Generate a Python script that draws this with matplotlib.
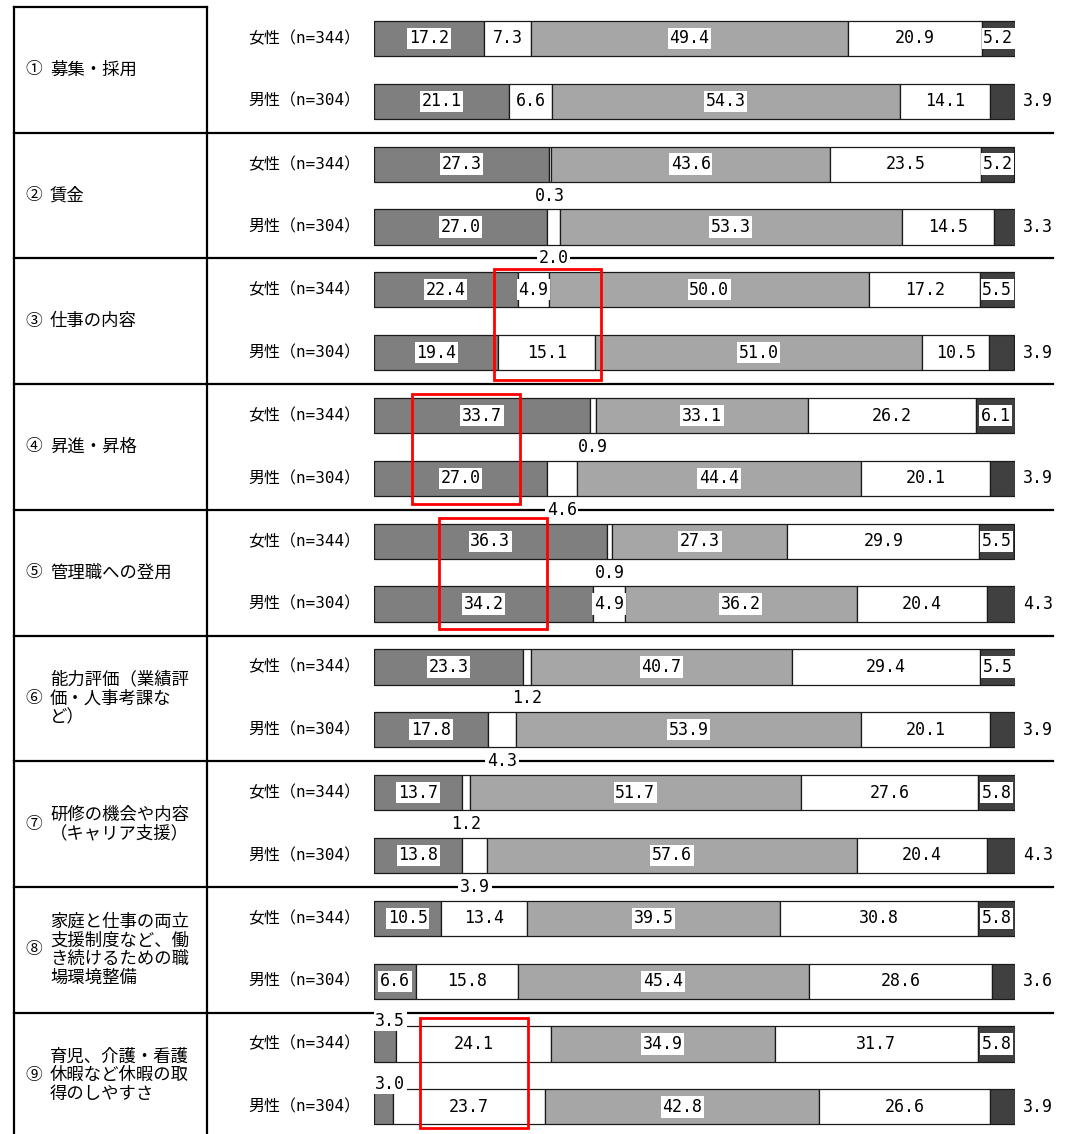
import matplotlib
matplotlib.use("Agg")
import matplotlib.pyplot as plt
from matplotlib.patches import Rectangle

plt.rcParams['font.family'] = ['Noto Sans CJK JP', 'DejaVu Sans']

# ---- data ----
circled = ["①", "②", "③", "④", "⑤", "⑥", "⑦", "⑧", "⑨"]
items = [
    "募集・採用",
    "賃金",
    "仕事の内容",
    "昇進・昇格",
    "管理職への登用",
    "能力評価（業績評\n価・人事考課な\nど）",
    "研修の機会や内容\n（キャリア支援）",
    "家庭と仕事の両立\n支援制度など、働\nき続けるための職\n場環境整備",
    "育児、介護・看護\n休暇など休暇の取\n得のしやすさ",
]
genders = ["女性（n=344）", "男性（n=304）"]

# five answer segments per bar, in drawing order
female = [
    [17.2, 7.3, 49.4, 20.9, 5.2],
    [27.3, 0.3, 43.6, 23.5, 5.2],
    [22.4, 4.9, 50.0, 17.2, 5.5],
    [33.7, 0.9, 33.1, 26.2, 6.1],
    [36.3, 0.9, 27.3, 29.9, 5.5],
    [23.3, 1.2, 40.7, 29.4, 5.5],
    [13.7, 1.2, 51.7, 27.6, 5.8],
    [10.5, 13.4, 39.5, 30.8, 5.8],
    [3.5, 24.1, 34.9, 31.7, 5.8],
]
male = [
    [21.1, 6.6, 54.3, 14.1, 3.9],
    [27.0, 2.0, 53.3, 14.5, 3.3],
    [19.4, 15.1, 51.0, 10.5, 3.9],
    [27.0, 4.6, 44.4, 20.1, 3.9],
    [34.2, 4.9, 36.2, 20.4, 4.3],
    [17.8, 4.3, 53.9, 20.1, 3.9],
    [13.8, 3.9, 57.6, 20.4, 4.3],
    [6.6, 15.8, 45.4, 28.6, 3.6],
    [3.0, 23.7, 42.8, 26.6, 3.9],
]
seg_colors = ["#7f7f7f", "#ffffff", "#a6a6a6", "#ffffff", "#404040"]

# highlighted areas (group index, x from, x to, y from, y to in group units)
highlights = [
    (2, 18.7, 35.4, 0.085, 0.968),
    (3, 5.9, 22.8, 0.080, 0.955),
    (4, 10.1, 27.0, 0.064, 0.947),
    (8, 7.2, 24.0, 0.042, 0.917),
]

# ---- layout (pixels) ----
W, H = 1070, 1134
top = 7.0
row_h = 125.7
bar_x0, bar_x1 = 374.0, 1015.0
n = len(items)

fig = plt.figure(figsize=(W / 100, H / 100), dpi=100)
bg = fig.add_axes([0, 0, 1, 1])
bg.set_xlim(0, W)
bg.set_ylim(H, 0)
bg.axis("off")

# table lines
lw = 1.6
bg.plot([14, 207], [top, top], color="black", lw=lw)
bg.plot([14, 14], [top, H], color="black", lw=lw)
bg.plot([207, 207], [top, H], color="black", lw=lw)
for k in range(1, n):
    y = top + row_h * k
    bg.plot([14, 1053], [y, y], color="black", lw=lw)

for i in range(n):
    yc = top + row_h * (i + 0.5)
    bg.text(25, yc, circled[i], fontsize=12, ha="left", va="center")
    bg.text(50, yc, items[i], fontsize=12.5, ha="left", va="center",
            linespacing=1.05)
    for j, g in enumerate(genders):
        yg = top + row_h * (i + 0.25 + 0.5 * j)
        bg.text(248, yg, g, fontsize=11.5, ha="left", va="center",
                family=["DejaVu Sans Mono", "Noto Sans CJK JP"])

# bar axes: x in %, y in group units
ax = fig.add_axes([bar_x0 / W, (H - top - row_h * n) / H,
                   (bar_x1 - bar_x0) / W, row_h * n / H])
ax.set_xlim(0, 100)
ax.set_ylim(n, 0)
ax.axis("off")

num_font = dict(family=["DejaVu Sans Mono"], fontsize=12)
box = dict(facecolor="white", edgecolor="none", pad=1.2)
bar_h = 0.28

for i in range(n):
    for j, vals in enumerate([female[i], male[i]]):
        y = i + 0.25 + 0.5 * j
        left = 0.0
        for k, v in enumerate(vals):
            ax.barh(y, v, left=left, height=bar_h, color=seg_colors[k],
                    edgecolor="#1a1a1a", linewidth=0.9)
            cx = left + v / 2
            txt = f"{v:.1f}"
            if k == 0 and v < 5:
                ax.text(left + 0.2, y - bar_h / 2 - 0.045, txt, ha="left",
                        va="center", bbox=box, clip_on=False, **num_font)
            elif k == 1 and v < 4.8:
                ax.text(cx, y + 0.25, txt, ha="center", va="center",
                        bbox=box, clip_on=False, **num_font)
            elif k == 4 and v < 5:
                ax.text(101.2, y, txt, ha="left", va="center",
                        clip_on=False, **num_font)
            else:
                ax.text(cx, y, txt, ha="center", va="center", bbox=box,
                        **num_font)
            left += v

for g, x0, x1, y0, y1 in highlights:
    ax.add_patch(Rectangle((x0, g + y0), x1 - x0, y1 - y0, fill=False,
                           edgecolor="#ff0000", linewidth=2, clip_on=False,
                           zorder=5))

fig.savefig("out.png", dpi=100)
plt.close(fig)
